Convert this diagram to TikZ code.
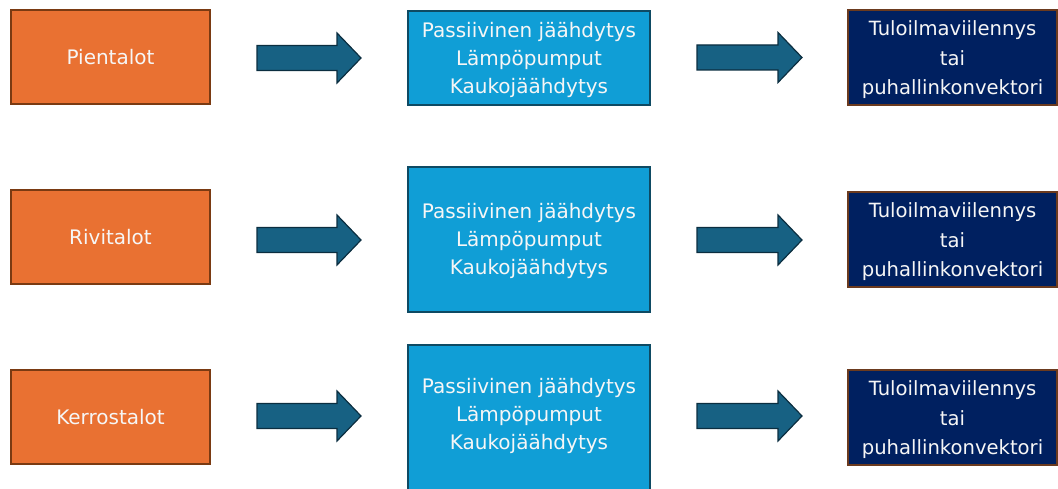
\documentclass[tikz,border=0pt]{standalone}
\usepackage{fontspec}
\setmainfont{DejaVu Sans}
\usetikzlibrary{positioning}
\definecolor{orfill}{HTML}{E97132}
\definecolor{orline}{HTML}{7A3A12}
\definecolor{blfill}{HTML}{109ED6}
\definecolor{blline}{HTML}{0E4A63}
\definecolor{nvfill}{HTML}{002060}
\definecolor{nvline}{HTML}{6B3A1E}
\definecolor{arfill}{HTML}{176183}
\definecolor{arline}{HTML}{0B2E40}
\definecolor{txt}{HTML}{F6F6F6}
\tikzset{
  box/.style={draw, line width=1.3pt, text=txt, align=center, inner sep=0pt,
    font=\fontsize{20}{28}\selectfont},
  house/.style={box, fill=orfill, draw=orline},
  method/.style={box, fill=blfill, draw=blline},
  unit/.style={box, fill=nvfill, draw=nvline},
  btext/.style={text=txt, align=center, inner sep=0pt, font=\fontsize{20}{28}\selectfont},
  ntext/.style={text=txt, align=center, inner sep=0pt, font=\fontsize{19.6}{29.5}\selectfont},
  barrow/.style={fill=arfill, draw=arline, line width=1.2pt, line join=miter},
}
\newcommand{\blockarrow}[4]{% name, x, y, len
  \coordinate (#1) at (#2,#3);
  \draw[barrow] (#2,#3-12.5) -- (#2+#4-24,#3-12.5) -- (#2+#4-24,#3-25) -- (#2+#4,#3)
    -- (#2+#4-24,#3+25) -- (#2+#4-24,#3+12.5) -- (#2,#3+12.5) -- cycle;}
\begin{document}
\begin{tikzpicture}[x=1pt,y=-1pt]
\useasboundingbox (0,0) rectangle (1058,489);
% row 1
\node[house, minimum width=199pt, minimum height=94pt] (h1) at (110.5,57) {Pientalot};
\node[method, minimum width=242pt, minimum height=94pt] (m1) at (529,58) {};
\node[btext] (t1) at ([yshift=-2pt]m1.center) {Passiivinen jäähdytys\\Lämpöpumput\\Kaukojäähdytys};
\node[unit, minimum width=209pt, minimum height=95pt] (u1) at (952.5,57.5) {};
\node[ntext] (v1) at ([yshift=-2.5pt]u1.center) {Tuloilmaviilennys\\tai\\puhallinkonvektori};
\blockarrow{a11}{257}{58}{104}
\blockarrow{a12}{697}{57.5}{105}
% row 2
\node[house, minimum width=199pt, minimum height=94pt] (h2) at (110.5,237) {Rivitalot};
\node[method, minimum width=242pt, minimum height=145pt] (m2) at (529,239.5) {};
\node[btext] (t2) at ([yshift=-1pt]m2.center) {Passiivinen jäähdytys\\Lämpöpumput\\Kaukojäähdytys};
\node[unit, minimum width=209pt, minimum height=95pt] (u2) at (952.5,239.5) {};
\node[ntext] (v2) at ([yshift=-2.5pt]u2.center) {Tuloilmaviilennys\\tai\\puhallinkonvektori};
\blockarrow{a21}{257}{240}{104}
\blockarrow{a22}{697}{240}{105}
% row 3
\node[house, minimum width=199pt, minimum height=94pt] (h3) at (110.5,417) {Kerrostalot};
\node[method, minimum width=242pt, minimum height=147pt] (m3) at (529,418.5) {};
\node[btext] (t3) at (529,416) {Passiivinen jäähdytys\\Lämpöpumput\\Kaukojäähdytys};
\node[unit, minimum width=209pt, minimum height=95pt] (u3) at (952.5,417.5) {};
\node[ntext] (v3) at ([yshift=-2.5pt]u3.center) {Tuloilmaviilennys\\tai\\puhallinkonvektori};
\blockarrow{a31}{257}{416}{104}
\blockarrow{a32}{697}{416}{105}
\end{tikzpicture}
\end{document}
